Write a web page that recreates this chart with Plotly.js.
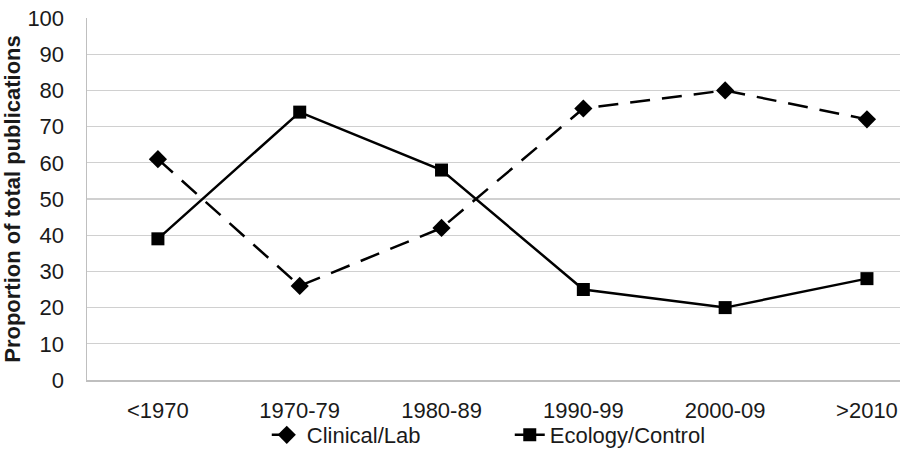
<!DOCTYPE html>
<html>
<head>
<meta charset="utf-8">
<script src="https://cdn.plot.ly/plotly-3.0.1.min.js"></script>
<style>html,body{margin:0;padding:0;background:#fff;}#chart{width:904px;height:450px;}</style>
</head>
<body>
<div id="chart"></div>
<script>
var categories = ["<1970", "1970-79", "1980-89", "1990-99", "2000-09", ">2010"];
var clinicalLab = [61, 26, 42, 75, 80, 72];
var ecologyControl = [39, 74, 58, 25, 20, 28];
var yTicks = [0, 10, 20, 30, 40, 50, 60, 70, 80, 90, 100];

var textColor = "#1a1a1a";
var font = "Liberation Sans, Arial, sans-serif";

var traces = [
  {
    x: categories, y: clinicalLab, name: "Clinical/Lab", type: "scatter", mode: "lines+markers",
    line: {color: "#000", width: 2.5, dash: "20px,12px"},
    marker: {symbol: "diamond", size: 14, color: "#000"}
  },
  {
    x: categories, y: ecologyControl, name: "Ecology/Control", type: "scatter", mode: "lines+markers",
    line: {color: "#000", width: 2.5},
    marker: {symbol: "square", size: 13, color: "#000"}
  }
];

var layout = {
  width: 904, height: 450,
  margin: {l: 87, r: 4, t: 18, b: 70, autoexpand: false},
  paper_bgcolor: "#fff", plot_bgcolor: "#fff",
  font: {family: font, color: textColor, size: 22},
  showlegend: true,
  legend: {
    orientation: "h", x: 0.52, xanchor: "center", y: -0.152, yanchor: "middle",
    bgcolor: "rgba(0,0,0,0)",
    font: {family: font, size: 22, color: textColor},
    entrywidth: 198, tracegroupgap: 0, itemwidth: 30
  },
  xaxis: {
    type: "category", range: [-0.5, 5.233],
    showgrid: false, zeroline: false,
    showline: true, linecolor: "#bfbfbf", linewidth: 1.5,
    ticks: "outside", ticklen: 10, tickcolor: "rgba(0,0,0,0)",
    tickfont: {family: font, size: 22, color: textColor}
  },
  yaxis: {
    range: [0, 100], tickvals: yTicks, ticktext: yTicks.map(String),
    showgrid: true, gridcolor: "#d0d0d0", gridwidth: 1.3,
    zeroline: false, showline: true, linecolor: "#bfbfbf", linewidth: 1.5,
    ticks: "outside", ticklen: 17, tickcolor: "rgba(0,0,0,0)",
    tickfont: {family: font, size: 22, color: textColor},
    title: {text: "<b>Proportion of total publications</b>", font: {family: font, size: 22, color: textColor}, standoff: 2}
  }
};

Plotly.newPlot("chart", traces, layout, {displayModeBar: false, staticPlot: true});
</script>
</body>
</html>
